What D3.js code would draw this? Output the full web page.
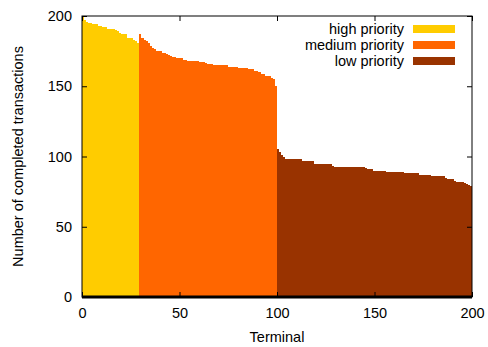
<!DOCTYPE html>
<html>
<head>
<meta charset="utf-8">
<script src="https://cdn.jsdelivr.net/npm/d3@7"></script>
<style>
  body { margin: 0; background: #fff; }
  text { font-family: "Liberation Sans", Arial, sans-serif; font-size: 14.5px; fill: #000; }
</style>
</head>
<body>
<svg id="chart" width="488" height="347"></svg>
<script>
// completed transactions per terminal, sorted, per priority class
const highValues = [199, 197, 196, 195, 195, 194, 194, 194, 193, 193, 192, 192, 192, 191, 191,
  191, 191, 190, 189, 188, 187, 187, 187, 184, 184, 184, 183, 182, 181];
const mediumValues = [187, 184, 184, 183, 182, 181, 179, 177, 176.5, 175.3, 175, 175, 173.4, 173.4, 173,
  172, 171.3, 171, 170.5, 170, 170, 170, 170, 169, 169, 168, 168, 168, 168, 168,
  168, 167, 167, 167, 166.5, 166, 166, 166, 165, 165, 165, 165, 165, 165, 165,
  165, 164, 164, 164, 164, 164, 163, 163, 163, 163, 163, 162, 162, 162, 161,
  161, 160, 160, 159, 158.7, 157, 157, 157, 156, 155, 150];
const lowValues = [105, 103, 101, 100, 98, 98, 98, 98, 98, 98, 98, 98, 98, 97, 96.6,
  96.6, 96.6, 96.6, 96.6, 95, 94.7, 94.7, 94.7, 94.7, 94.7, 94.7, 94.7, 94.7, 93, 92.8,
  92.8, 92.8, 92.8, 92.8, 92.8, 92.8, 92.8, 92.8, 92.8, 92.8, 92.8, 92.8, 92.8, 92.8, 92.8,
  92, 91, 91, 91, 90, 90, 90, 90, 90, 90, 90, 89, 89, 89, 89,
  89, 89, 89, 89, 89, 88, 88, 88, 88, 88, 88, 88, 88, 87, 87,
  87, 87, 87, 87, 86, 86, 86, 86, 86, 86, 86, 85, 84, 84, 84,
  84, 82.5, 82, 82, 82, 82, 81, 80.5, 80, 79];
const seriesNames = ['high priority', 'medium priority', 'low priority'];
const seriesColors = ['#ffcc00', '#ff6600', '#993300'];
const xTicks = [0, 50, 100, 150, 200];
const yTicks = [0, 50, 100, 150, 200];

const svg = d3.select('#chart');
const plotL = 82, plotR = 472, plotT = 16, plotB = 297;

const x = d3.scaleLinear().domain([0, 200]).range([plotL, plotR]);
const y = d3.scaleLinear().domain([0, 200]).range([plotB, plotT]);

// build step series with terminal offsets
let offset = 0;
const series = [highValues, mediumValues, lowValues].map((vals, k) => {
  const pts = vals.map((v, i) => ({ t: offset + i, v }));
  pts.push({ t: offset + vals.length, v: vals[vals.length - 1] });
  offset += vals.length;
  return { name: seriesNames[k], color: seriesColors[k], pts };
});

const area = d3.area()
  .curve(d3.curveStepAfter)
  .x((d) => x(d.t))
  .y0(y(0))
  .y1((d) => y(d.v));

svg.append('g').selectAll('path')
  .data(series)
  .join('path')
  .attr('d', (d) => area(d.pts))
  .attr('fill', (d) => d.color)
  .attr('shape-rendering', 'crispEdges');

// axes with inward ticks on all sides, gnuplot style
const tickLen = 5;
const axisB = svg.append('g').attr('transform', `translate(0,${plotB})`)
  .call(d3.axisBottom(x).tickValues(xTicks).tickSizeInner(-tickLen).tickSizeOuter(0).tickPadding(11));
const axisT = svg.append('g').attr('transform', `translate(0,${plotT})`)
  .call(d3.axisTop(x).tickValues(xTicks).tickSizeInner(-tickLen).tickSizeOuter(0).tickFormat(''));
const axisL = svg.append('g').attr('transform', `translate(${plotL},0)`)
  .call(d3.axisLeft(y).tickValues(yTicks).tickSizeInner(-tickLen).tickSizeOuter(0).tickPadding(10));
const axisR = svg.append('g').attr('transform', `translate(${plotR},0)`)
  .call(d3.axisRight(y).tickValues(yTicks).tickSizeInner(-tickLen).tickSizeOuter(0).tickFormat(''));

[axisB, axisT, axisL, axisR].forEach((g) => {
  g.select('.domain').remove();
  g.selectAll('.tick line').attr('stroke', '#000');
  g.selectAll('text').attr('font-size', null).attr('font-family', null).style('fill', '#000');
});
axisB.selectAll('text').attr('dy', '0.71em');

svg.append('rect')
  .attr('x', plotL).attr('y', plotT)
  .attr('width', plotR - plotL).attr('height', plotB - plotT)
  .attr('fill', 'none').attr('stroke', '#000').attr('stroke-width', 1);

svg.append('line')
  .attr('x1', plotL).attr('x2', plotR)
  .attr('y1', plotB).attr('y2', plotB)
  .attr('stroke', '#000').attr('stroke-width', 3);

// axis titles
svg.append('text')
  .attr('x', (plotL + plotR) / 2).attr('y', 337)
  .attr('text-anchor', 'middle').attr('dominant-baseline', 'central')
  .text('Terminal');

svg.append('text')
  .attr('transform', `translate(18,${(plotT + plotB) / 2}) rotate(-90)`)
  .attr('text-anchor', 'middle').attr('dominant-baseline', 'central')
  .text('Number of completed transactions');

// legend
const legend = svg.append('g');
series.forEach((s, i) => {
  const cy = 29 + i * 16;
  legend.append('text')
    .attr('x', 404).attr('y', cy)
    .attr('text-anchor', 'end').attr('dominant-baseline', 'central')
    .text(s.name);
  legend.append('rect')
    .attr('x', 413).attr('y', cy - 4)
    .attr('width', 42).attr('height', 8)
    .attr('fill', s.color);
});
</script>
</body>
</html>
